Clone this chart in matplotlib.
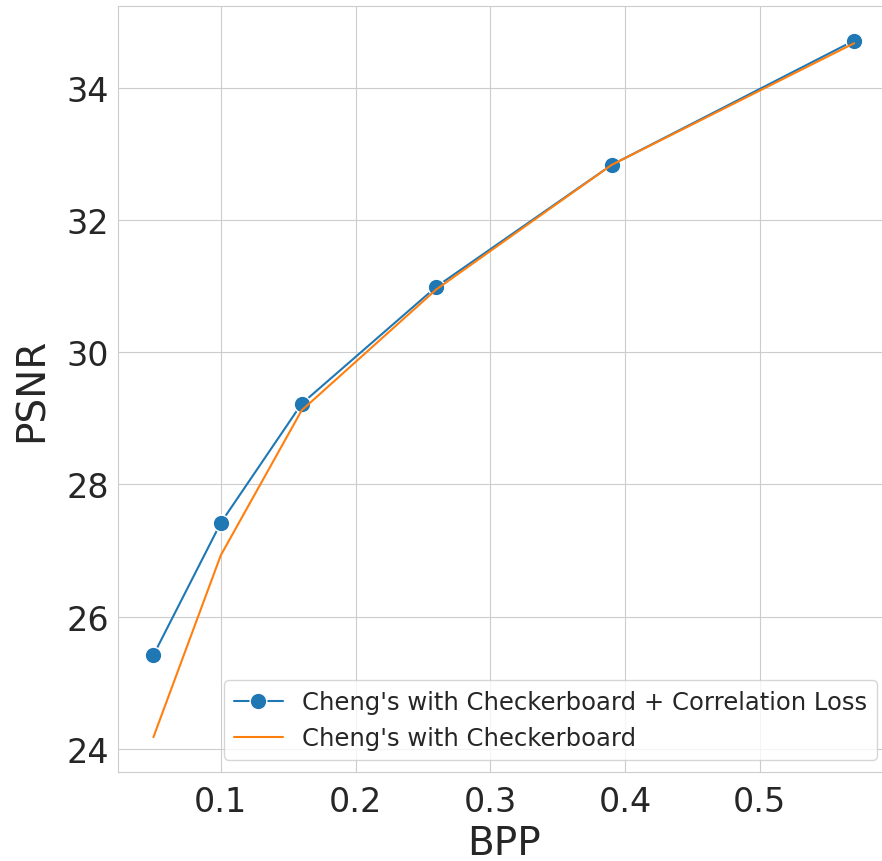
import matplotlib
matplotlib.use("Agg")
import matplotlib.pyplot as plt
import seaborn as sns

bpp = [0.05, 0.10, 0.16, 0.26, 0.39, 0.57]
psnr_corr = [25.42, 27.42, 29.22, 30.99, 32.83, 34.71]
psnr_base = [24.18, 26.93, 29.12, 30.95, 32.83, 34.67]
labels = ["Cheng's with Checkerboard + Correlation Loss", "Cheng's with Checkerboard"]

sns.set_style("whitegrid")
plt.rcParams['font.family'] = ['DejaVu Sans']

fig = plt.figure(figsize=(8.82, 8.62), dpi=100)
ax = fig.add_axes([0.1342, 0.1032, 0.874, 0.889])
ax.plot(bpp, psnr_corr, marker='o', markersize=12, markeredgecolor='white',
        markeredgewidth=1, color='#1f77b4', linewidth=1.5, label=labels[0])
ax.plot(bpp, psnr_base, color='#ff7f0e', linewidth=1.5, label=labels[1])
ax.set_xticks([0.1, 0.2, 0.3, 0.4, 0.5])
ax.set_yticks([24, 26, 28, 30, 32, 34])
ax.tick_params(labelsize=24, colors='#262626')
ax.tick_params(axis='x', pad=5.5)
ax.set_xlabel("BPP", fontsize=28, color='#262626', labelpad=5)
ax.set_ylabel("PSNR", fontsize=28, color='#262626', labelpad=11)
ax.legend(loc='lower right', fontsize=17.5)
fig.savefig("out.png", dpi=100)
